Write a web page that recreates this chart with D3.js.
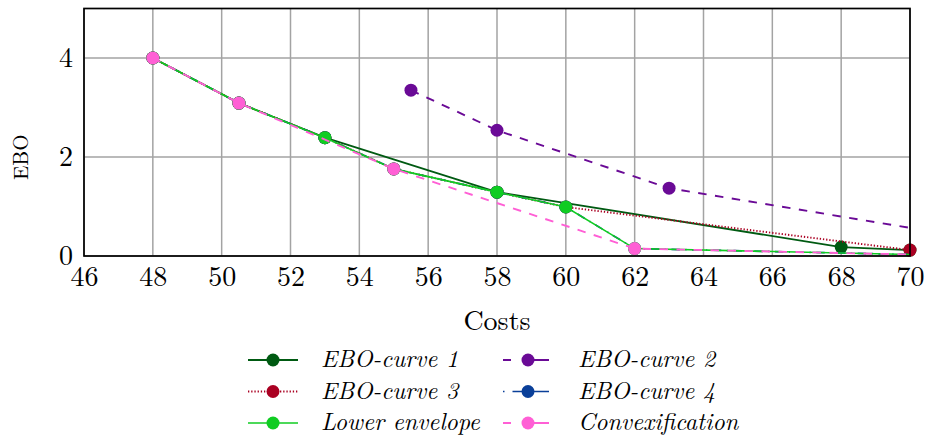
<!DOCTYPE html>
<html>
<head>
<meta charset="utf-8">
<script src="https://cdn.jsdelivr.net/npm/d3@7"></script>
<style>
  html, body { margin: 0; padding: 0; background: #fff; }
  svg { display: block; }
</style>
</head>
<body>
<svg id="chart" width="925" height="439"></svg>
<script>
// Axis ticks
const xTicks = [46, 48, 50, 52, 54, 56, 58, 60, 62, 64, 66, 68, 70];
const yTicks = [0, 2, 4];

// Series: costs (x) and EBO (y)
const curve1X = [48, 50.5, 53, 58, 68, 70];
const curve1Y = [4.0, 3.09, 2.39, 1.29, 0.18, 0.12];

const curve2X = [55.5, 58, 63, 72];
const curve2Y = [3.35, 2.54, 1.37, 0.34];

const curve3X = [48, 50.5, 53, 55, 58, 60, 70];
const curve3Y = [4.0, 3.09, 2.39, 1.76, 1.29, 0.99, 0.12];

const curve4X = [48, 50.5, 53, 55, 58, 60, 62, 72];
const curve4Y = [4.0, 3.09, 2.39, 1.76, 1.29, 0.99, 0.15, 0.0];

const envelopeX = [48, 50.5, 53, 55, 58, 60, 62, 72];
const envelopeY = [4.0, 3.09, 2.39, 1.76, 1.29, 0.99, 0.15, 0.0];

const convexX = [48, 50.5, 55, 62, 72];
const convexY = [4.0, 3.09, 1.76, 0.15, 0.0];

const seriesNames = ["EBO-curve 1", "EBO-curve 2", "EBO-curve 3", "EBO-curve 4", "Lower envelope", "Convexification"];

const FONT = "Latin Modern Roman";

const series = [
  { name: seriesNames[0], xs: curve1X, ys: curve1Y, color: "#005a12", dash: null, width: 1.8, legendDash: null },
  { name: seriesNames[1], xs: curve2X, ys: curve2Y, color: "#6a0a96", dash: "8.5,8.5", width: 1.9, legendDash: "8,19,20,19" },
  { name: seriesNames[2], xs: curve3X, ys: curve3Y, color: "#aa0022", dash: "1.3,1.9", width: 1.9, legendDash: "1.3,1.9" },
  { name: seriesNames[3], xs: curve4X, ys: curve4Y, color: "#0a3f99", dash: "8.4,5.6,1.1,5.6", width: 1.7, legendDash: "1.5,8,38" },
  { name: seriesNames[4], xs: envelopeX, ys: envelopeY, color: "#10cc22", dash: null, width: 1.6, legendDash: null },
  { name: seriesNames[5], xs: convexX, ys: convexY, color: "#ff5fd5", dash: "8.5,8.5", width: 1.9, legendDash: "8,19,20,19" }
];

const svg = d3.select("#chart");
const plot = { left: 84, right: 910, top: 8.5, bottom: 256 };

const x = d3.scaleLinear().domain([46, 70]).range([plot.left, plot.right]);
const y = d3.scaleLinear().domain([0, 5]).range([plot.bottom, plot.top]);

svg.append("defs").append("clipPath").attr("id", "plot-clip")
  .append("rect")
  .attr("x", plot.left).attr("y", plot.top)
  .attr("width", plot.right - plot.left).attr("height", plot.bottom - plot.top);

// Grid
const grid = svg.append("g");
grid.selectAll("line.vx").data(xTicks).join("line")
  .attr("x1", d => x(d)).attr("x2", d => x(d))
  .attr("y1", plot.top).attr("y2", plot.bottom)
  .attr("stroke", "#a3a3a3").attr("stroke-width", 1.5);
grid.selectAll("line.hy").data(yTicks).join("line")
  .attr("x1", plot.left).attr("x2", plot.right)
  .attr("y1", d => y(d)).attr("y2", d => y(d))
  .attr("stroke", "#a3a3a3").attr("stroke-width", 1.5);

// Axes (labels only; frame drawn separately)
const xAxis = svg.append("g")
  .attr("transform", `translate(0,${plot.bottom})`)
  .call(d3.axisBottom(x).tickValues(xTicks).tickSize(0).tickPadding(0).tickFormat(d3.format("d")));
xAxis.attr("font-family", FONT).attr("font-size", 28);
xAxis.select(".domain").remove();
xAxis.selectAll("text").attr("dy", null).attr("y", 30).attr("fill", "#000");

const yAxis = svg.append("g")
  .attr("transform", `translate(${plot.left},0)`)
  .call(d3.axisLeft(y).tickValues(yTicks).tickSize(0).tickPadding(0).tickFormat(d3.format("d")));
yAxis.attr("font-family", FONT).attr("font-size", 28);
yAxis.select(".domain").remove();
yAxis.selectAll("text").attr("x", -11).attr("dy", "0.32em").attr("fill", "#000");

// Series lines and markers
const layer = svg.append("g");
const line = d3.line().x(d => x(d[0])).y(d => y(d[1]));

series.forEach(s => {
  const pts = s.xs.map((v, i) => [v, s.ys[i]]);
  layer.append("path")
    .datum(pts)
    .attr("clip-path", "url(#plot-clip)")
    .attr("fill", "none")
    .attr("stroke", s.color)
    .attr("stroke-width", s.width)
    .attr("stroke-dasharray", s.dash)
    .attr("d", line);
  layer.selectAll(null)
    .data(pts.filter(p => p[0] <= 70))
    .join("circle")
    .attr("cx", d => x(d[0]))
    .attr("cy", d => y(d[1]))
    .attr("r", 6.5)
    .attr("fill", s.color);
});

// Frame
svg.append("rect")
  .attr("x", plot.left).attr("y", plot.top)
  .attr("width", plot.right - plot.left).attr("height", plot.bottom - plot.top)
  .attr("fill", "none").attr("stroke", "#000").attr("stroke-width", 1.7);

// Axis titles
svg.append("text")
  .attr("x", (plot.left + plot.right) / 2).attr("y", 330)
  .attr("text-anchor", "middle")
  .attr("font-family", FONT)
  .attr("font-size", 28)
  .text("Costs");

svg.append("text")
  .attr("transform", `translate(28,${(plot.top + plot.bottom) / 2 + 25}) rotate(-90)`)
  .attr("text-anchor", "middle")
  .attr("font-family", FONT)
  .attr("font-size", 21)
  .text("EBO");

// Legend: two columns, three rows
const colX = [248, 503];
const colW = [50, 46];
const textX = [321, 578];
const rowY = [360, 391.5, 423];
const legend = svg.append("g");
series.forEach((s, k) => {
  const c = k % 2;
  const cx = colX[c];
  const cy = rowY[Math.floor(k / 2)];
  const g = legend.append("g");
  g.append("line")
    .attr("x1", cx).attr("x2", cx + colW[c])
    .attr("y1", cy).attr("y2", cy)
    .attr("stroke", s.color)
    .attr("stroke-width", s.width)
    .attr("stroke-dasharray", s.legendDash);
  g.append("circle")
    .attr("cx", cx + colW[c] / 2 + (c ? 2 : 0)).attr("cy", cy).attr("r", 6.5)
    .attr("fill", s.color);
  g.append("text")
    .attr("x", textX[c]).attr("y", cy + 7)
    .attr("font-family", FONT)
    .attr("font-size", 24)
    .attr("font-style", "italic")
    .text(s.name);
});
</script>
</body>
</html>
